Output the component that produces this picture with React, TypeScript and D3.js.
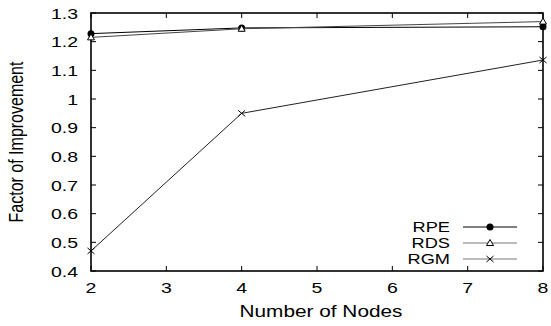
import { useEffect, useRef } from "react"
import * as d3 from "d3"

const nodes = [2, 4, 8]
const rpe = [1.228, 1.248, 1.252]
const rds = [1.215, 1.245, 1.27]
const rgm = [0.47, 0.95, 1.136]
const xTicks = [2, 3, 4, 5, 6, 7, 8]
const yTicks = [0.4, 0.5, 0.6, 0.7, 0.8, 0.9, 1, 1.1, 1.2, 1.3]
const seriesNames = ["RPE", "RDS", "RGM"]

export default function App() {
  const ref = useRef<SVGSVGElement>(null)
  useEffect(() => {
    if (!ref.current) return
    const m = { top: 13, right: 8, bottom: 55, left: 91 }
    const W = 551 - m.left - m.right
    const H = 326 - m.top - m.bottom
    d3.select(ref.current).selectAll("*").remove()
    const svg = d3.select(ref.current).append("g").attr("transform", `translate(${m.left},${m.top})`)
    const font = "'Liberation Sans', Arial, sans-serif"
    const sx = 1.3 // the source image is stretched sideways

    const label = (g: any, tx: number, ty: number, s: string, size: number, anchor: string, rot = false) =>
      g.append("text").attr("transform", `translate(${tx},${ty}) scale(${sx},1)${rot ? " rotate(-90)" : ""}`)
        .attr("text-anchor", anchor).style("font-family", font).style("font-size", `${size}px`).text(s)

    const x = d3.scaleLinear().domain([2, 8]).range([0, W])
    const y = d3.scaleLinear().domain([0.4, 1.3]).range([H, 0])

    // ticks inside, mirrored on all sides
    const tk = 5
    xTicks.forEach(t => {
      svg.append("line").attr("x1", x(t)).attr("x2", x(t)).attr("y1", H).attr("y2", H - tk).attr("stroke", "#000")
      svg.append("line").attr("x1", x(t)).attr("x2", x(t)).attr("y1", 0).attr("y2", tk).attr("stroke", "#000")
      label(svg, x(t), H + 22, String(t), 15, "middle")
    })
    yTicks.forEach(t => {
      svg.append("line").attr("x1", 0).attr("x2", tk).attr("y1", y(t)).attr("y2", y(t)).attr("stroke", "#000")
      svg.append("line").attr("x1", W).attr("x2", W - tk).attr("y1", y(t)).attr("y2", y(t)).attr("stroke", "#000")
      label(svg, -13, y(t) + 5.5, d3.format("~g")(t), 15, "end")
    })
    svg.append("rect").attr("width", W).attr("height", H).attr("fill", "none").attr("stroke", "#000").attr("stroke-width", 1.6)

    label(svg, W / 2 + 4, H + 46, "Number of Nodes", 16, "middle")
    label(svg, -68, H / 2, "Factor of Improvement", 16, "middle", true)

    const line = d3.line<number>().x((_, i) => x(nodes[i])).y(d => y(d))
    const all = [rpe, rds, rgm]
    const colours = ["#000", "#444", "#222"]

    const marker = (g: any, k: number, cx: number, cy: number) => {
      if (k === 0) g.append("circle").attr("cx", cx).attr("cy", cy).attr("r", 3.5).attr("fill", "#000")
      else if (k === 1) g.append("path").attr("d", `M${cx},${cy - 3.5}L${cx + 3.5},${cy + 2.5}L${cx - 3.5},${cy + 2.5}Z`).attr("fill", "#fff").attr("stroke", "#000")
      else g.append("path").attr("d", `M${cx - 3.5},${cy - 3}L${cx + 3.5},${cy + 3}M${cx - 3.5},${cy + 3}L${cx + 3.5},${cy - 3}`).attr("stroke", "#000")
    }

    all.forEach((s, k) => {
      svg.append("path").datum(s).attr("d", line).attr("fill", "none").attr("stroke", colours[k]).attr("stroke-width", 1)
      s.forEach((v, i) => marker(svg, k, x(nodes[i]), y(v)))
    })

    // legend
    const lg = svg.append("g").attr("transform", `translate(${W - 80}, ${H - 44})`)
    seriesNames.forEach((n, k) => {
      const yy = k * 16
      label(lg, -13, yy + 5, n, 14, "end")
      lg.append("line").attr("x1", 0).attr("x2", 54).attr("y1", yy).attr("y2", yy).attr("stroke", k === 0 ? "#000" : "#777")
      marker(lg, k, 27, yy)
    })
  }, [])
  return <svg ref={ref} width={551} height={326} style={{ position: "absolute", left: 0, top: 0, display: "block", background: "#fff" }} />
}
